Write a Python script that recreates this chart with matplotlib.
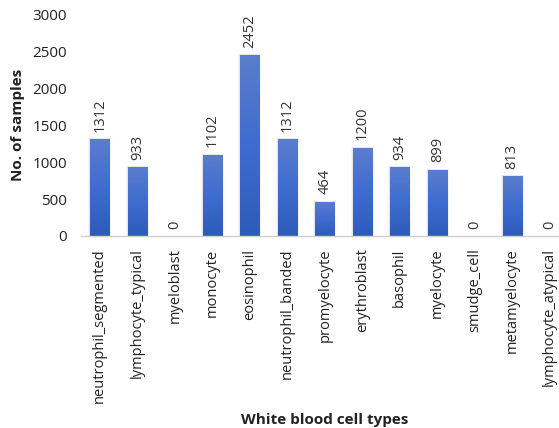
import numpy as np
import matplotlib
matplotlib.use("Agg")
import matplotlib.pyplot as plt
from matplotlib.colors import LinearSegmentedColormap

categories = ["neutrophil_segmented", "lymphocyte_typical", "myeloblast", "monocyte",
              "eosinophil", "neutrophil_banded", "promyelocyte", "erythroblast",
              "basophil", "myelocyte", "smudge_cell", "metamyelocyte", "lymphocyte_atypical"]
counts = [1312, 933, 0, 1102, 2452, 1312, 464, 1200, 934, 899, 0, 813, 0]
yticks = [0, 500, 1000, 1500, 2000, 2500, 3000]

plt.rcParams["font.family"] = ["Open Sans", "DejaVu Sans"]

W, H = 559, 428
fig = plt.figure(figsize=(W / 100, H / 100), dpi=100)
left, right, bottom, top = 81, 568.5, 236, 15
ax = fig.add_axes([left / W, 1 - bottom / H, (right - left) / W, (bottom - top) / H])

x = np.arange(len(categories))
bw = 0.52
cmap = LinearSegmentedColormap.from_list("bar", ["#2d5bba", "#3f6cd0", "#5b7dcc"])
grad = np.linspace(0, 1, 256).reshape(-1, 1)
bars = ax.bar(x, counts, width=bw, color="none", edgecolor="none", zorder=2)
for b, v in zip(bars, counts):
    if v <= 0:
        continue
    x0 = b.get_x()
    # soft shadow around each bar
    for extra, alpha in [(0.09, 0.15), (0.05, 0.25)]:
        ax.bar(x0 + bw / 2, v + 12, width=bw + extra, color="#b8bcc6", alpha=alpha,
               zorder=1, linewidth=0)
    im = ax.imshow(grad, extent=[x0, x0 + bw, 0, v], aspect="auto", cmap=cmap,
                   origin="lower", zorder=2)
    im.set_clip_path(b)

for xi, v in zip(x, counts):
    ax.text(xi, v + 100, f"{v}", rotation=90, ha="center", va="bottom",
            fontsize=10.5, color="#333333")

ax.set_xlim(-0.5, len(categories) - 0.5)
ax.set_ylim(0, 3000)
ax.set_yticks(yticks)
ax.set_yticklabels([str(t) for t in yticks], fontsize=11, color="#222222")
ax.set_xticks(x)
ax.set_xticklabels(categories, rotation=90, fontsize=10.5, color="#222222", va="top")
ax.tick_params(axis="both", length=0)
ax.tick_params(axis="x", pad=9)
ax.tick_params(axis="y", pad=10)
for s in ["top", "right", "left"]:
    ax.spines[s].set_visible(False)
ax.spines["bottom"].set_color("#d0d0d0")
ax.spines["bottom"].set_linewidth(1.0)

fig.text(18 / W, 1 - 125 / H, "No. of samples", rotation=90, ha="center", va="center",
         fontsize=11, fontweight="bold", color="#222222")
fig.text(325 / W, 1 - 420 / H, "White blood cell types", ha="center", va="center",
         fontsize=11, fontweight="bold", color="#222222")

fig.savefig("out.png", dpi=100)
